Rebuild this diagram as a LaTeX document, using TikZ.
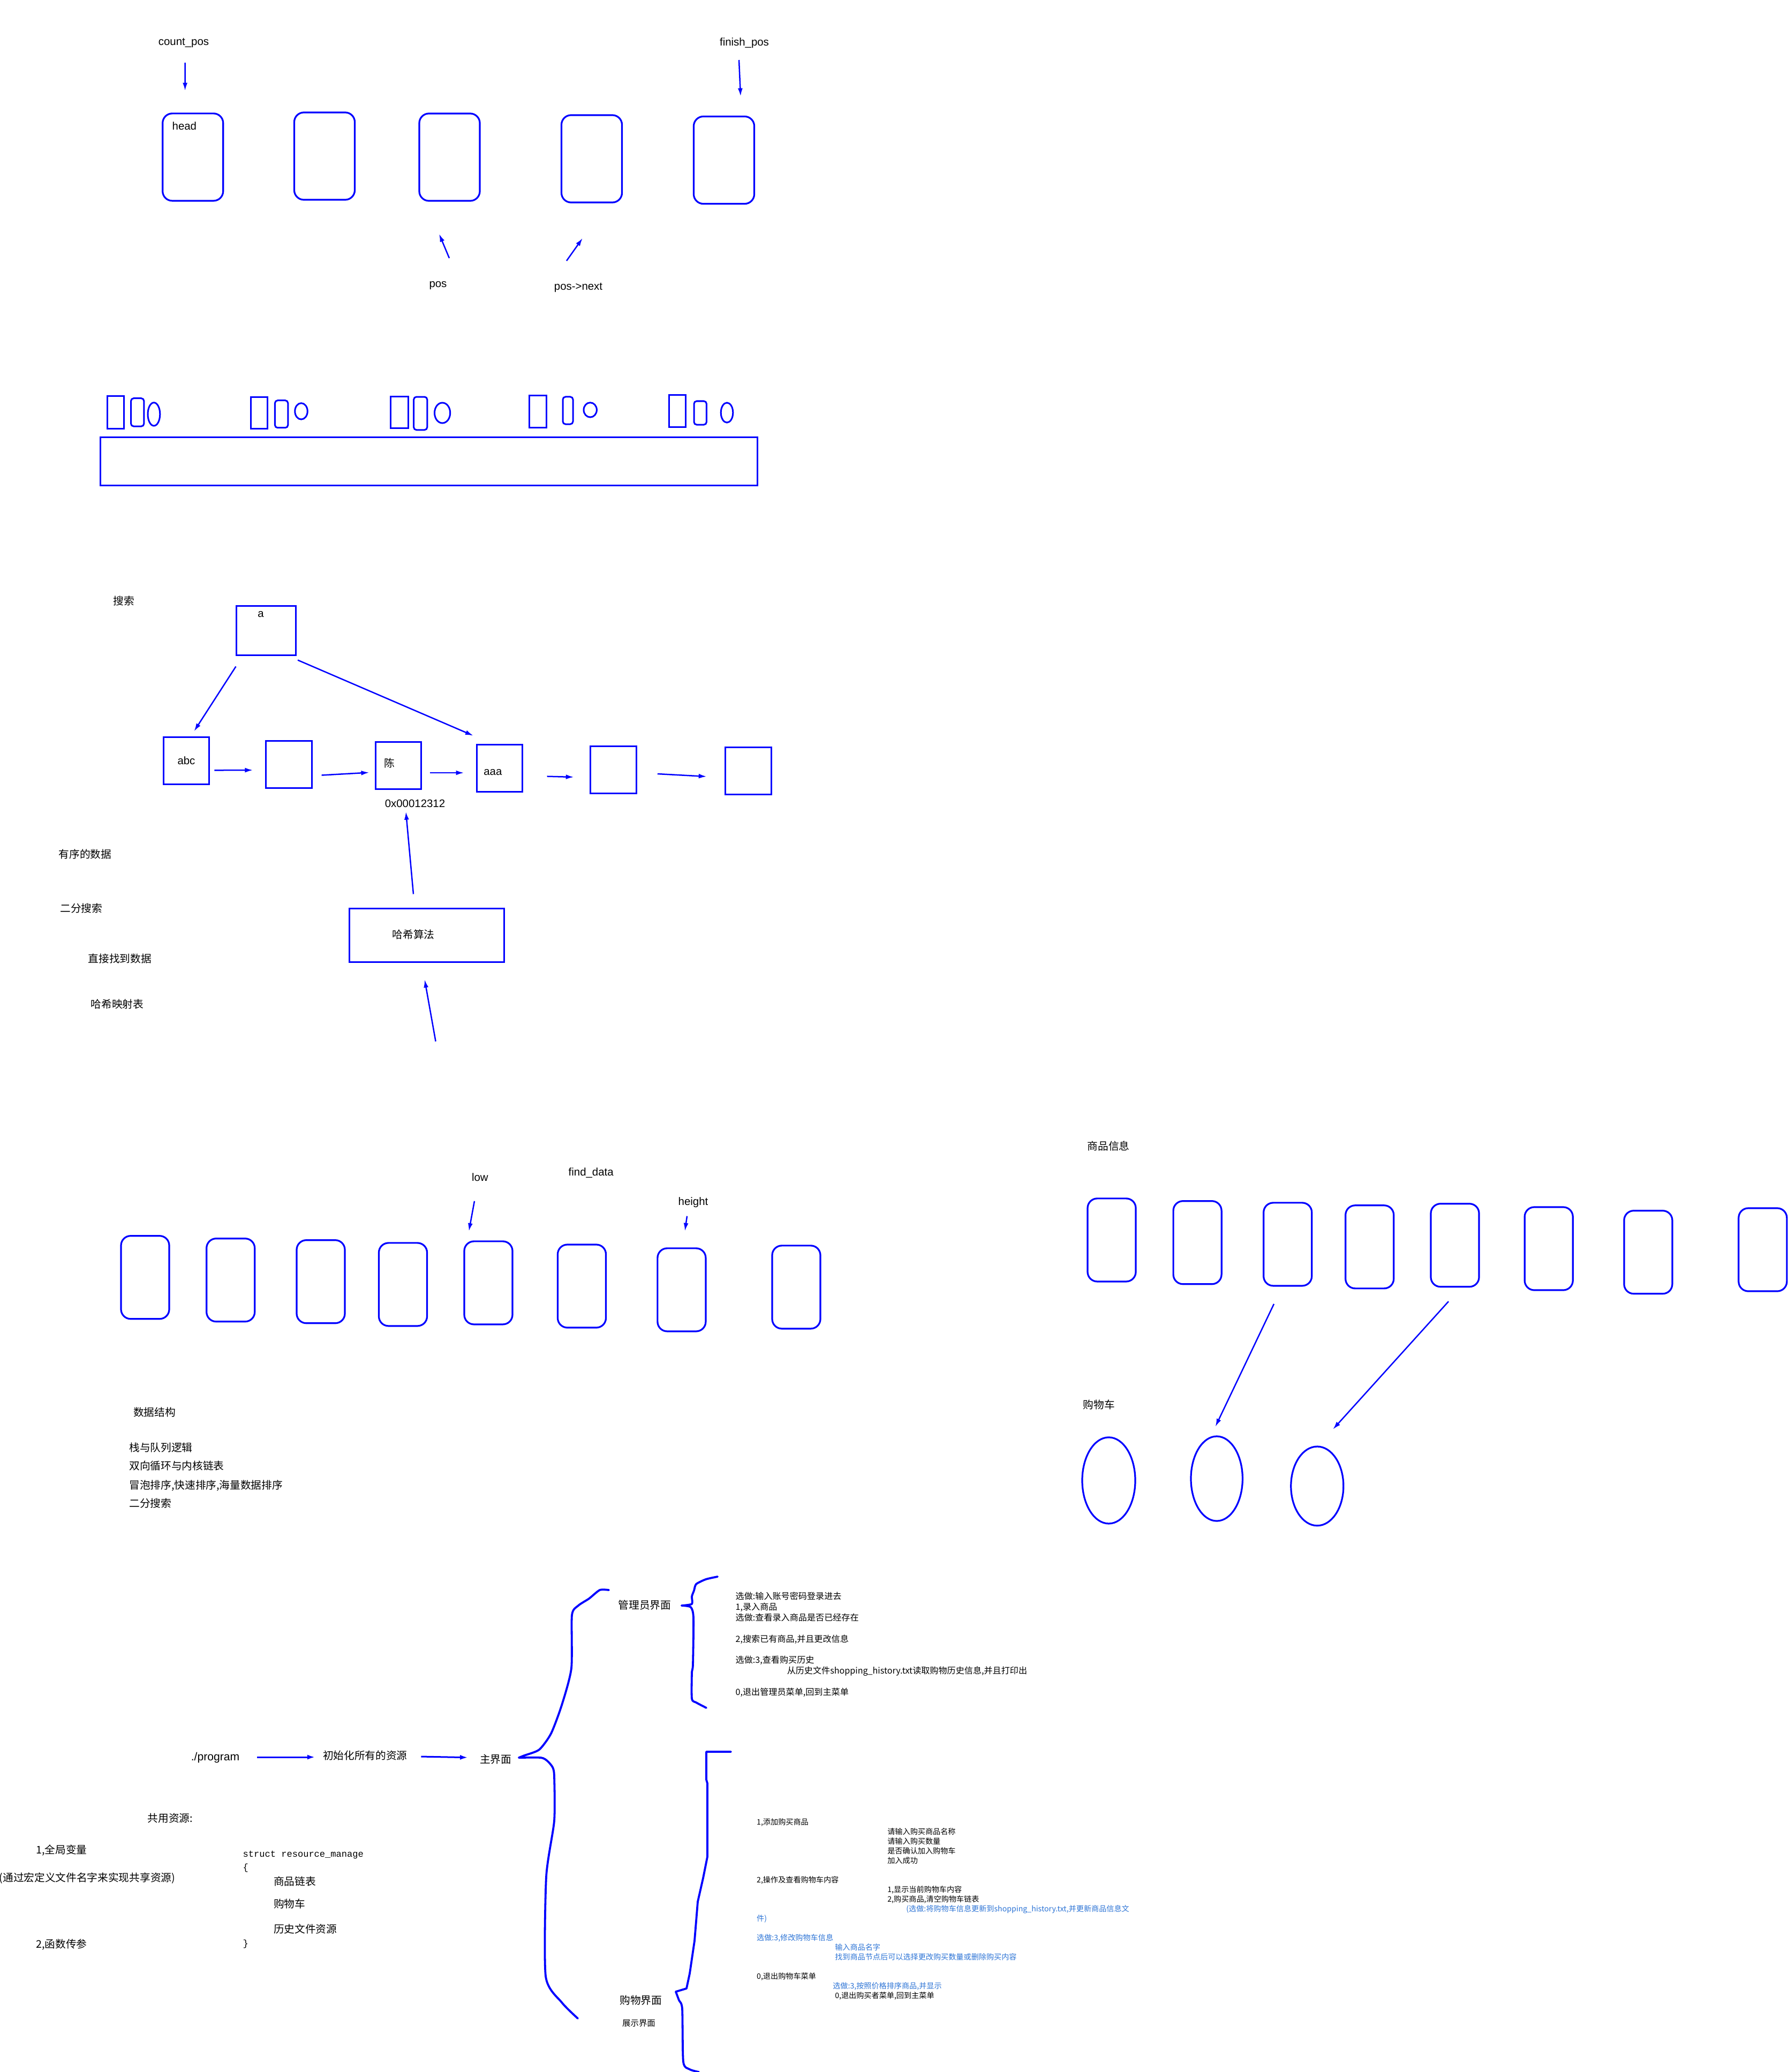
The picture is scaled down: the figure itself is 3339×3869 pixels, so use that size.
\documentclass[tikz,border=0pt]{standalone}
\usepackage{fontspec}
\setmainfont{Liberation Sans}
\setmonofont{Liberation Mono}
\newfontfamily\cjk{Noto Sans CJK SC}
\usepackage{xcolor}
\usepackage{tikz}
\usetikzlibrary{arrows.meta, shapes.geometric}
\definecolor{noteblue}{RGB}{46,117,214}
\tikzset{
  cell/.style={draw=blue, line width=0.32mm, rounded corners=0.18cm, inner sep=0pt},
  tall/.style={cell, minimum width=1.13cm, minimum height=1.63cm},
  slot/.style={cell, minimum width=0.9cm, minimum height=1.55cm},
  bar/.style={draw=blue, line width=0.3mm, inner sep=0pt},
  pill/.style={bar, rounded corners=0.05cm},
  oval/.style={bar, ellipse},
  bucket/.style={bar, minimum width=0.855cm, minimum height=0.885cm},
  ptr/.style={blue, line width=0.25mm, -{Latex[length=1.5mm, width=0.9mm]}},
  curl/.style={blue, line width=0.38mm, line join=round, line cap=round},
  txt/.style={inner sep=0pt, font=\fontsize{5.8pt}{7pt}\selectfont},
  zh/.style={inner sep=0pt, font=\cjk\fontsize{5.6pt}{6.8pt}\selectfont},
  code/.style={inner sep=0pt, font=\ttfamily\fontsize{4.85pt}{6pt}\selectfont}
}
\begin{document}
\begin{tikzpicture}[x=0.01cm, y=-0.01cm]
				\path[use as bounding box, fill=white] (0,0) rectangle (3339,3869);
				
				% Linked list and its pointers:
				\node[tall] (head) at (360.2, 293.4){};
				\node[tall] (nd2) at (606, 291.5){};
				\node[tall] (nd3) at (839.5, 293.5){};
				\node[tall] (nd4) at (1105, 296.5){};
				\node[tall] (nd5) at (1352, 299){};
				\node[txt, anchor=west] (headtxt) at (321, 235){head};
				\node[txt] (cntpos) at (343, 80){count\_pos};
				\node[txt] (finpos) at (1390, 80){finish\_pos};
				\node[txt] (pos) at (818, 533){pos};
				\node[txt] (posnext) at (1080, 537){pos->next};
				\draw[ptr] (cntpos) ++(2.6, 37) -- ([shift={(-14.6, -40.7)}]head.north);
				\draw[ptr] (finpos) ++(-10, 32) -- ([shift={(31, -36)}]nd5.north);
				\draw[ptr] (pos) ++(21, -51) -- ([shift={(-19.5, 60)}]nd3.south);
				\draw[ptr] (posnext) ++(-22, -50) -- ([shift={(-17, 65)}]nd4.south);
				
				% Small shapes over the long block:
				\node[bar, minimum width=0.31cm, minimum height=0.6cm] (ra) at (216.2, 770){};
				\node[pill, minimum width=0.243cm, minimum height=0.523cm] (pa) at (256.7, 769.9){};
				\node[oval, minimum width=0.228cm, minimum height=0.433cm] (oa) at (287.4, 773.4){};
				\node[bar, minimum width=0.317cm, minimum height=0.59cm] (rb) at (483.9, 771.2){};
				\node[pill, minimum width=0.243cm, minimum height=0.51cm] (pb) at (525.6, 773.2){};
				\node[oval, minimum width=0.235cm, minimum height=0.303cm] (ob) at (562.5, 767.9){};
				\node[bar, minimum width=0.323cm, minimum height=0.59cm] (rc) at (745.9, 770.2){};
				\node[pill, minimum width=0.251cm, minimum height=0.617cm] (pc) at (785.2, 771.9){};
				\node[oval, minimum width=0.292cm, minimum height=0.38cm] (oc) at (826.1, 771){};
				\node[bar, minimum width=0.325cm, minimum height=0.59cm] (rd) at (1004.3, 768.5){};
				\node[pill, minimum width=0.19cm, minimum height=0.51cm] (pd) at (1060.5, 766.5){};
				\node[oval, minimum width=0.244cm, minimum height=0.273cm] (od) at (1102.2, 765.4){};
				\node[bar, minimum width=0.315cm, minimum height=0.59cm] (re) at (1264.8, 767.5){};
				\node[pill, minimum width=0.234cm, minimum height=0.44cm] (pe) at (1307.7, 771){};
				\node[oval, minimum width=0.226cm, minimum height=0.37cm] (oe) at (1357.5, 770.5){};
				\node[bar, minimum width=12.26cm, minimum height=0.9cm] (pool) at (801, 861.5){};
				
				% Hash chain:
				\node[zh] (search) at (231, 1122.4){搜索};
				\node[bar, minimum width=1.1cm, minimum height=0.91cm] (ka) at (497, 1177.5){};
				\node[txt] (katxt) at (487, 1147){a};
				\node[bucket, font=\fontsize{5.8pt}{7pt}\selectfont] (abc) at (348, 1420.3){abc};
				\node[bucket] (hb2) at (539.7, 1427.3){};
				\node[bucket] (chen) at (743.8, 1429.5){};
				\node[zh] (chentxt) at (727.5, 1424.5){陈};
				\node[bucket] (aaa) at (932.8, 1434.5){};
				\node[txt] (aaatxt) at (920.4, 1442){aaa};
				\node[bucket] (hb5) at (1145.5, 1437.5){};
				\node[bucket] (hb6) at (1397.5, 1439.5){};
				\node[txt] (addr) at (775, 1500.7){0x00012312};
				\node[bar, minimum width=2.88cm, minimum height=0.99cm] (hash) at (797, 1746.5){};
				\node[zh] (hashtxt) at (772, 1745){哈希算法};
				\draw[ptr] ([shift={(0, 20)}]ka.south west) -- ([shift={(14.4, -9)}]abc.north);
				\draw[ptr] ([shift={(2.5, 8)}]ka.south east) -- ([shift={(-48.8, -15)}]aaa.north);
				\draw[ptr] ([shift={(8, 18)}]abc.east) -- ([shift={(-23, 10.7)}]hb2.west);
				\draw[ptr] ([shift={(16.6, 20.2)}]hb2.east) -- ([shift={(-10, 13)}]chen.west);
				\draw[ptr] ([shift={(14.5, 13.5)}]chen.east) -- ([shift={(-22, 8.5)}]aaa.west);
				\draw[ptr] ([shift={(44.5, 15.2)}]aaa.east) -- ([shift={(-29.5, 13.5)}]hb5.west);
				\draw[ptr] ([shift={(38, 7.5)}]hb5.east) -- ([shift={(-33.5, 10.5)}]hb6.west);
				\draw[ptr] ([shift={(-25, -26)}]hash.north) -- ([shift={(-17, 7)}]addr.south);
				\draw[ptr] (hash.south) ++(16.6, 147) -- ++(-20.6, -115.4);
				\node[zh, anchor=west] (sorted) at (109, 1594.7){有序的数据};
				\node[zh, anchor=west] (bsearch) at (111.7, 1695.6){二分搜索};
				\node[zh, anchor=west] (direct) at (164, 1790){直接找到数据};
				\node[zh, anchor=west] (hmap) at (169, 1874.5){哈希映射表};
				
				% Binary search row:
				\node[slot] (s1) at (271, 2385.2){};
				\node[slot] (s2) at (430.7, 2390.2){};
				\node[slot] (s3) at (599, 2393.2){};
				\node[slot] (s4) at (752.5, 2398.4){};
				\node[slot] (s5) at (912, 2395.4){};
				\node[slot] (s6) at (1086.5, 2401.5){};
				\node[slot] (s7) at (1272.9, 2408.4){};
				\node[slot] (s8) at (1487, 2403.4){};
				\node[txt] (low) at (896.4, 2197.7){low};
				\node[txt] (fdata) at (1103.7, 2190){find\_data};
				\node[txt] (hgt) at (1294.5, 2245){height};
				\draw[ptr] (low) ++(-10.4, 45) -- ([shift={(-36.4, -17.2)}]s5.north);
				\draw[ptr] (hgt) ++(-11.5, 25.7) -- ([shift={(6.1, -30.5)}]s7.north);
				
				\node[zh] (ds) at (288.5, 2637){数据结构};
				\node[zh, anchor=west] (ds1) at (240.7, 2702.7){栈与队列逻辑};
				\node[zh, anchor=west] (ds2) at (240.7, 2736.7){双向循环与内核链表};
				\node[zh, anchor=west] (ds3) at (240.7, 2774){冒泡排序,快速排序,海量数据排序};
				\node[zh, anchor=west] (ds4) at (240.7, 2807){二分搜索};
				
				% Goods and cart:
				\node[zh, anchor=west] (goods) at (2030, 2139.8){商品信息};
				\node[slot] (g1) at (2076, 2315.4){};
				\node[slot] (g2) at (2236.1, 2320.2){};
				\node[slot] (g3) at (2404.7, 2323.4){};
				\node[slot] (g4) at (2557.7, 2328.3){};
				\node[slot] (g5) at (2717, 2325.2){};
				\node[slot] (g6) at (2892.2, 2331.5){};
				\node[slot] (g7) at (3077.9, 2338.2){};
				\node[slot] (g8) at (3291.8, 2333.5){};
				\node[zh, anchor=west] (cart) at (2022, 2623.4){购物车};
				\node[oval, line width=0.32mm, minimum width=0.99cm, minimum height=1.61cm] (c1) at (2070.5, 2764.4){};
				\node[oval, line width=0.32mm, minimum width=0.964cm, minimum height=1.58cm] (c2) at (2272.2, 2761){};
				\node[oval, line width=0.32mm, minimum width=0.98cm, minimum height=1.477cm] (c3) at (2459.8, 2774.9){};
				\draw[ptr] ([shift={(-25.7, 32.2)}]g3.south) -- ([shift={(-2.6, -16.3)}]c2.north);
				\draw[ptr] ([shift={(-12, 25.8)}]g5.south) -- ([shift={(29.3, -30.4)}]c3.north);
				
				% Program flow and menus:
				\node[txt, font=\fontsize{6pt}{7pt}\selectfont] (prog) at (402, 3282){./program};
				\node[zh] (init) at (681.8, 3278){初始化所有的资源};
				\node[zh] (mainui) at (925.7, 3285){主界面};
				\draw[ptr, line width=0.3mm] ([shift={(32, -1)}]prog.east) -- ([shift={(-13.4, 3)}]init.west);
				\draw[ptr, line width=0.3mm] ([shift={(25, 2)}]init.east) -- ([shift={(-21.3, -3.3)}]mainui.west);
				
				\draw[curl] plot[smooth, tension=0.4] coordinates {(1137,2969) (1120,2969) (1100,2985) (1080,2998) (1068,3016) (1067,3115) (1049,3184) (1029,3237) (1007,3267) (979,3278) (969,3282)};
				\draw[curl] plot[smooth, tension=0.4] coordinates {(969,3282) (1010,3282) (1022,3288) (1032,3300) (1035,3317) (1035,3400) (1020,3505) (1019,3690) (1049,3739) (1079,3769)};
				
				\node[zh] (admin) at (1204, 2996.6){管理员界面};
				\draw[curl] plot[smooth, tension=0.4] coordinates {(1340,2944) (1318,2949) (1300,2958) (1296,2970) (1292,2981) (1292,2995) (1273,2998)};
				\draw[curl] plot[smooth, tension=0.4] coordinates {(1273,2998) (1290,3001) (1295,3021) (1294,3108) (1292,3124) (1292,3172) (1300,3179) (1319,3189)};
				\node[anchor=north west, align=left, inner sep=0pt, font=\cjk\fontsize{4.58pt}{5.66pt}\selectfont] (adminmenu) at (1373, 2972){选做:输入账号密码登录进去\\
					1,录入商品\\
					选做:查看录入商品是否已经存在\\[5.66pt]
					2,搜索已有商品,并且更改信息\\[5.66pt]
					选做:3,查看购买历史\\
					\hspace*{0.96cm}从历史文件shopping\_history.txt读取购物历史信息,并且打印出\\[5.66pt]
					0,退出管理员菜单,回到主菜单};
				
				\node[zh] (shopui) at (1196.7, 3734.7){购物界面};
				\node[zh, font=\cjk\fontsize{4.4pt}{5.4pt}\selectfont] (showui) at (1193, 3778){展示界面};
				\draw[curl] (1365,3271) -- (1319,3271) -- (1319,3323) -- (1321,3330) -- (1321,3467) -- (1313,3507) -- (1303,3551) -- (1297,3624) -- (1288,3685) -- (1282,3713) -- (1262,3719);
				\draw[curl] plot[smooth, tension=0.4] coordinates {(1262,3719) (1268,3735) (1274,3751) (1276,3850) (1288,3864) (1305,3869)};
				\node[anchor=north west, align=left, inner sep=0pt, font=\cjk\fontsize{4.02pt}{5.13pt}\selectfont] (shopmenu) at (1412.5, 3394.5){1,添加购买商品\\
					\hspace*{2.44cm}请输入购买商品名称\\
					\hspace*{2.44cm}请输入购买数量\\
					\hspace*{2.44cm}是否确认加入购物车\\
					\hspace*{2.44cm}加入成功\\[5.13pt]
					2,操作及查看购物车内容\\
					\hspace*{2.44cm}1,显示当前购物车内容\\
					\hspace*{2.44cm}2,购买商品,清空购物车链表\\
					\hspace*{2.79cm}\textcolor{noteblue}{(选做:将购物车信息更新到shopping\_history.txt,并更新商品信息文}\\
					\textcolor{noteblue}{件)}\\[5.13pt]
					\textcolor{noteblue}{选做:3,修改购物车信息}\\
					\hspace*{1.46cm}\textcolor{noteblue}{输入商品名字}\\
					\hspace*{1.46cm}\textcolor{noteblue}{找到商品节点后可以选择更改购买数量或删除购买内容}\\[5.13pt]
					0,退出购物车菜单\\
					\hspace*{1.42cm}\textcolor{noteblue}{选做:3,按照价格排序商品,并显示}\\
					\hspace*{1.46cm}0,退出购买者菜单,回到主菜单};
				
				% Shared resources:
				\node[zh] (shared) at (318, 3395){共用资源:};
				\node[zh, anchor=west] (glob) at (66.8, 3455){1,全局变量};
				\node[zh, anchor=west] (macro) at (-2, 3506.7){(通过宏定义文件名字来实现共享资源)};
				\node[zh, anchor=west] (param) at (66.8, 3630.7){2,函数传参};
				\node[code, anchor=west] (st) at (453, 3464){struct resource\_manage};
				\node[code, anchor=west] (lb) at (453, 3488){\{};
				\node[zh, anchor=west] (m1) at (510.4, 3512.7){商品链表};
				\node[zh, anchor=west] (m2) at (510.4, 3555){购物车};
				\node[zh, anchor=west] (m3) at (510.4, 3601.7){历史文件资源};
				\node[code, anchor=west] (rb) at (453, 3630){\}};
			\end{tikzpicture}
\end{document}
